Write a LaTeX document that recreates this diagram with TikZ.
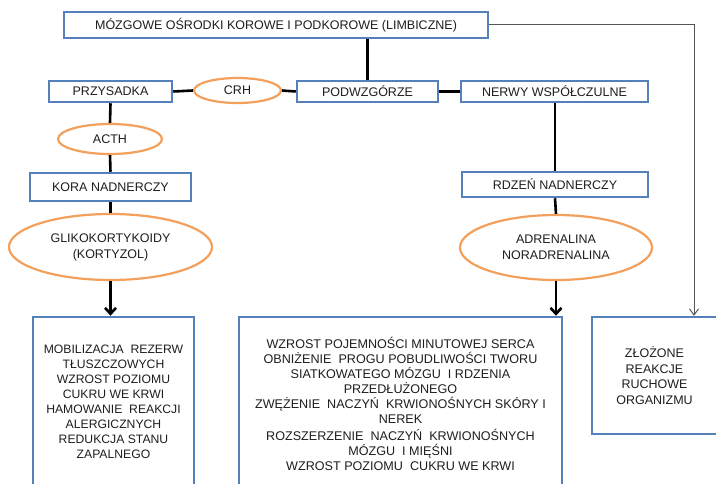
\documentclass[tikz,border=0pt]{standalone}
\usepackage{fontspec}
\setmainfont{Liberation Sans}
\usetikzlibrary{shapes.geometric,arrows.meta}
\definecolor{boxblue}{HTML}{5581BA}
\definecolor{ellorange}{HTML}{F2A05C}
\definecolor{txt}{HTML}{1E1E1E}
\definecolor{thinline}{HTML}{555555}
\begin{document}
\begin{tikzpicture}[x=1pt,y=-1pt,
  bx/.style={draw=boxblue,line width=2.5pt,rectangle,inner sep=0pt,text=txt,
    font=\fontsize{12.5}{15}\selectfont,align=center},
  el/.style={draw=ellorange,line width=2.2pt,ellipse,inner sep=0pt,text=txt,
    font=\fontsize{12.5}{16}\selectfont,align=center},
  conn/.style={line width=2.6pt,draw=black},
  arr/.style={conn,-{Straight Barb[length=6pt,width=11pt]}},
  thinarr/.style={line width=1pt,draw=thinline,-{Straight Barb[length=6pt,width=9pt]}}]
\useasboundingbox (0,0) rectangle (716,483);
\clip (0,0) rectangle (716,483);
\fill[white] (0,0) rectangle (716,483);

% nodes
\node[bx,minimum width=424pt,minimum height=26pt] (top) at (276,25)
  {MÓZGOWE OŚRODKI KOROWE I PODKOROWE (LIMBICZNE)};
\node[bx,minimum width=123pt,minimum height=21pt] (przys) at (110.5,91.5) {PRZYSADKA};
\node[el,minimum width=87pt,minimum height=25pt] (crh) at (237.5,90.5) {CRH};
\node[bx,minimum width=141pt,minimum height=21pt] (podw) at (367.5,91.5) {PODWZGÓRZE};
\node[bx,minimum width=187pt,minimum height=21pt] (nerwy) at (554.5,91.5) {NERWY WSPÓŁCZULNE};
\node[el,minimum width=104pt,minimum height=30pt] (acth) at (110,139) {ACTH};
\node[bx,minimum width=161pt,minimum height=28pt] (kora) at (110.5,187) {KORA NADNERCZY};
\node[el,minimum width=203pt,minimum height=66pt] (gliko) at (110.5,247) {GLIKOKORTYKOIDY\\(KORTYZOL)};
\node[bx,minimum width=186pt,minimum height=25pt] (rdzen) at (555,184.5) {RDZEŃ NADNERCZY};
\node[el,minimum width=192pt,minimum height=65pt] (adren) at (556,247.5) {ADRENALINA\\NORADRENALINA};

\node[bx,minimum width=161pt,minimum height=170pt,font=\fontsize{12.2}{15}\selectfont] (leftbox) at (113.5,402)
  {MOBILIZACJA\ \ REZERW\\TŁUSZCZOWYCH\\WZROST POZIOMU\\CUKRU WE KRWI\\HAMOWANIE\ \ REAKCJI\\ALERGICZNYCH\\REDUKCJA STANU\\ZAPALNEGO};
\node[bx,minimum width=323pt,minimum height=173pt,font=\fontsize{12.6}{15}\selectfont] (midbox) at (400.5,403.5)
  {WZROST POJEMNOŚCI MINUTOWEJ SERCA\\OBNIŻENIE\ \ PROGU POBUDLIWOŚCI TWORU\\SIATKOWATEGO MÓZGU\ \ I RDZENIA\\PRZEDŁUŻONEGO\\ZWĘŻENIE\ \ NACZYŃ\ \ KRWIONOŚNYCH SKÓRY I\\NEREK\\[2pt]ROZSZERZENIE\ \ NACZYŃ\ \ KRWIONOŚNYCH\\MÓZGU\ \ I MIĘŚNI\\WZROST POZIOMU\ \ CUKRU WE KRWI};
\node[bx,minimum width=125pt,minimum height=117pt,font=\fontsize{12.5}{15.5}\selectfont] (rightbox) at (654.5,375.5)
  {ZŁOŻONE\\REAKCJE\\RUCHOWE\\ORGANIZMU};

% connectors
\draw[conn] (podw.north) -- (podw.north |- top.south);
\draw[conn] (przys.east) -- (crh.west);
\draw[conn] (crh.east) -- (podw.west);
\draw[conn] (podw.east) -- (nerwy.west);
\draw[conn] (przys.south) -- (acth.north);
\draw[conn] (acth.south) -- (kora.north);
\draw[conn] (kora.south) -- (gliko.north);
\draw[arr] (gliko.south) -- (gliko.south |- leftbox.north);
\draw[conn] (rdzen.north) -- (rdzen.north |- nerwy.south);
\draw[conn] (rdzen.south) -- (adren.north);
\draw[arr] (adren.south) -- (adren.south |- midbox.north);
\coordinate (rcorner) at (694,24);
\draw[thinarr] (top.east |- rcorner) -- (rcorner) -- (rcorner |- rightbox.north);
\end{tikzpicture}
\end{document}
